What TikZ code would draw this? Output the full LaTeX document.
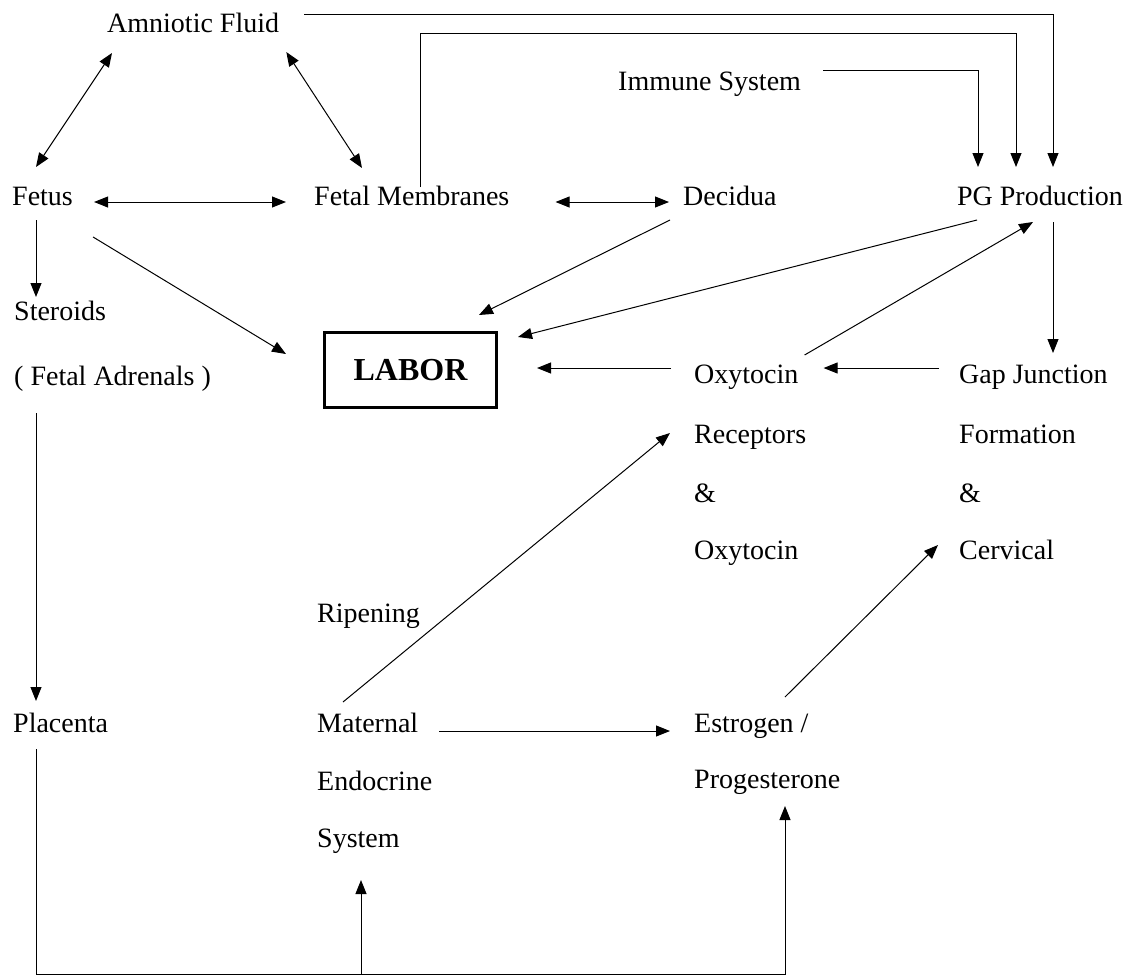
\documentclass[tikz,border=0pt]{standalone}
\usepackage{fontspec}
\setmainfont{Liberation Serif}
\usetikzlibrary{arrows.meta}

\begin{document}
\begin{tikzpicture}[x=1pt, y=-1pt,
  txt/.style={anchor=base west, inner sep=0pt, font=\fontsize{28}{34}\selectfont},
  arr/.style={-{Triangle[length=14pt, width=11pt]}, line width=1pt},
  dblarr/.style={{Triangle[length=14pt, width=11pt]}-{Triangle[length=14pt, width=11pt]}, line width=1pt},
  laborbox/.style={draw, line width=3pt, minimum width=172pt, minimum height=75pt,
    inner sep=0pt, font=\fontsize{32}{38}\selectfont\bfseries}
]
\useasboundingbox (0,0) rectangle (1128,978);
% top rows
\node[txt] (af) at (107,32) {Amniotic Fluid};
\node[txt] (imm) at (618,90) {Immune System};
\node[txt] (fetus) at (12,205) {Fetus};
\node[txt] (fm) at (314,205) {Fetal Membranes};
\node[txt] (dec) at (683,205) {Decidua};
\node[txt, anchor=base east] (pg) at (1123,205) {PG Production};
% left column
\node[txt] (ster) at (14,320) {Steroids};
\node[txt] (adr) at (14,385) {( Fetal Adrenals )};
\node[txt] (plac) at (13,732) {Placenta};
\node[laborbox] (labor) at (410.5,370) {LABOR};
% oxytocin column
\node[txt] (oxy) at (694,383) {Oxytocin};
\node[txt] (rec) at (694,443) {Receptors};
\node[txt] (amp1) at (694,502) {\&};
\node[txt] (oxy2) at (694,559) {Oxytocin};
% gap junction column
\node[txt] (gap) at (959,383) {Gap Junction};
\node[txt] (form) at (959,443) {Formation};
\node[txt] (amp2) at (959,502) {\&};
\node[txt] (cerv) at (959,559) {Cervical};
% lower rows
\node[txt] (rip) at (317,622) {Ripening};
\node[txt] (mat) at (317,732) {Maternal};
\node[txt] (endo) at (317,790) {Endocrine};
\node[txt] (sys) at (317,847) {System};
\node[txt] (est) at (694,732) {Estrogen /};
\node[txt] (prog) at (694,788) {Progesterone};

% feeds into PG production
\draw[arr] ([shift={(25,-18)}]af.base east) -| ([shift={(-70,-38)}]pg.base east);
\draw[arr] ([shift={(106,-18)}]fm.base west) -- ++(0,-154) -| ([shift={(-107,-38)}]pg.base east);
\draw[arr] ([shift={(22,-20)}]imm.base east) -| ([shift={(-145,-38)}]pg.base east);
% fetal compartment
\draw[dblarr] ([shift={(5,21)}]af.base west) -- ([shift={(24,-38)}]fetus.base west);
\draw[dblarr] ([shift={(7,20)}]af.base east) -- ([shift={(48,-37)}]fm.base west);
\draw[dblarr] ([shift={(21,-3)}]fetus.base east) -- ([shift={(-28,-3)}]fm.base west);
\draw[dblarr] ([shift={(46,-3)}]fm.base east) -- ([shift={(-14,-3)}]dec.base west);
\draw[arr] ([shift={(24,15)}]fetus.base west) -- ([shift={(22,-23)}]ster.base west);
% into labor
\draw[arr] ([shift={(20,32)}]fetus.base east) -- ([shift={(-37,-16)}]labor.west);
\draw[arr] ([shift={(-13,15)}]dec.base west) -- ([shift={(-19,-16)}]labor.north east);
\draw[arr] ([shift={(-146,15)}]pg.base east) -- ([shift={(20,6)}]labor.north east);
\draw[arr] ([shift={(-23,-15)}]oxy.base west) -- ([shift={(39,-2)}]labor.east);
% right side loop
\draw[arr] ([shift={(6,-28)}]oxy.base east) -- ([shift={(-90,17)}]pg.base east);
\draw[arr] ([shift={(-70,17)}]pg.base east) -- ([shift={(94,-30)}]gap.base west);
\draw[arr] ([shift={(-20,-15)}]gap.base west) -- ([shift={(25,-15)}]oxy.base east);
% placenta and maternal side
\draw[arr] ([shift={(22,28)}]adr.base west) -- ([shift={(23,-31)}]plac.base west);
\draw[arr] ([shift={(23,17)}]plac.base west) |- ([shift={(91,186)}]prog.base west) -- ([shift={(91,18)}]prog.base west);
\draw[arr] ([shift={(44,127)}]sys.base west) -- ([shift={(44,33)}]sys.base west);
\draw[arr] ([shift={(21,-1)}]mat.base east) -- ([shift={(-24,-1)}]est.base west);
\draw[arr] ([shift={(26,-30)}]mat.base west) -- ([shift={(-24,-10)}]rec.base west);
\draw[arr] ([shift={(91,-35)}]est.base west) -- ([shift={(-21,-14)}]cerv.base west);
\end{tikzpicture}
\end{document}
